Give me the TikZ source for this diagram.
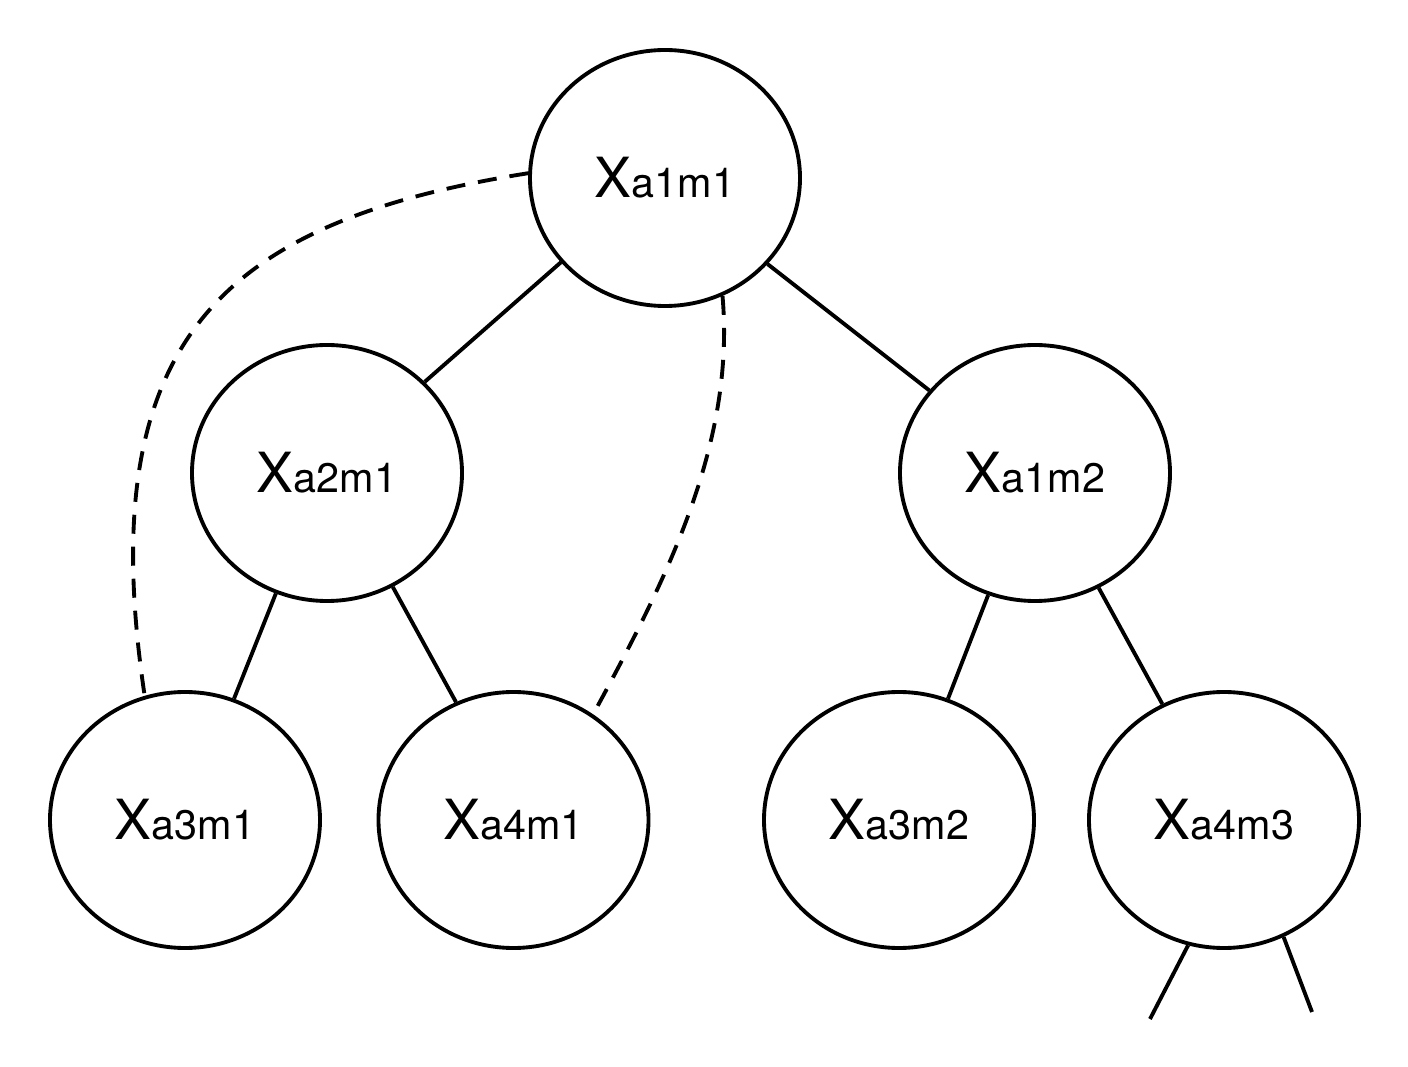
\documentclass[tikz,border=0pt]{standalone}
\usepackage{fontspec}
\setmainfont{TeX Gyre Heros}
\usetikzlibrary{shapes.geometric}
\def\xvar#1{X{\fontsize{23.5}{28}\selectfont #1}}

\begin{document}
\begin{tikzpicture}[
		var/.style={ellipse, draw, line width=2.2pt, minimum width=5.4cm, minimum height=5.12cm, inner sep=0pt, font=\fontsize{31.5}{36}\selectfont},
		link/.style={line width=2.2pt},
		dashlink/.style={line width=2.2pt, dash pattern=on 0.38cm off 0.26cm}
	]
			%%%%% START %%%%%
			\useasboundingbox (0, 0) rectangle (28.16, 21.32);
			
			\node[var] (a1m1) at (13.30, 17.76) {\xvar{a1m1}};
			\node[var] (a2m1) at (6.54, 11.86) {\xvar{a2m1}};
			\node[var] (a1m2) at (20.70, 11.86) {\xvar{a1m2}};
			\node[var] (a3m1) at (3.70, 4.92) {\xvar{a3m1}};
			\node[var] (a4m1) at (10.27, 4.92) {\xvar{a4m1}};
			\node[var] (a3m2) at (17.98, 4.92) {\xvar{a3m2}};
			\node[var] (a4m3) at (24.48, 4.92) {\xvar{a4m3}};
			
			\coordinate (endl) at (23.00, 0.94);
			\coordinate (endr) at (26.24, 1.08);
			
			\draw[link] (a1m1.219) -- (a2m1.43);
			\draw[link] (a1m1.320) -- (a1m2.142);
			\draw[link] (a2m1.247) -- (a3m1.68);
			\draw[link] (a2m1.300) -- (a4m1.116);
			\draw[link] (a1m2.249) -- (a3m2.68);
			\draw[link] (a1m2.299) -- (a4m3.118);
			\draw[link] (a4m3.254) -- (endl);
			\draw[link] (a4m3.297) -- (endr);
			
			\draw[dashlink] (a1m1.178) .. controls +(189:6.2) and +(98.5:7.2) .. (a3m1.108);
			\draw[dashlink] (a1m1.296) .. controls +(275:3) and +(61.5:3) .. (a4m1.53);
			
			%%%%% END %%%%%
\end{tikzpicture}
\end{document}
